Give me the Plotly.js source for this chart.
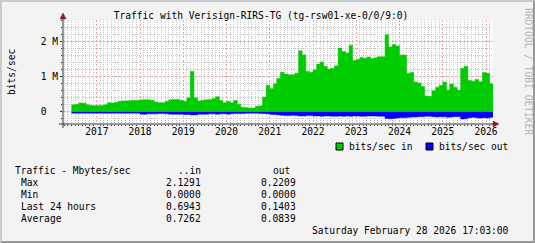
<!DOCTYPE html>
<html>
<head>
<meta charset="utf-8">
<script src="https://cdn.plot.ly/plotly-3.0.1.min.js"></script>
<style>
html,body{margin:0;padding:0;background:#F3F3F3;}
#wrap{position:relative;width:535px;height:243px;overflow:hidden;}
#chart{position:absolute;left:0;top:0;width:535px;height:243px;}
#frame{position:absolute;left:0;top:0;width:535px;height:243px;box-sizing:border-box;
  border-top:2px solid #CBCBCB;border-left:2px solid #CBCBCB;
  border-right:2px solid #999999;border-bottom:2px solid #999999;pointer-events:none;}
</style>
</head>
<body>
<div id="wrap"><div id="chart"></div><div id="frame"></div></div>
<script>
// ---- data (monthly averages, in M) ----
const startMonth = '2016-06';
const endTime = '2026-02-28 17:03';
const inValues = [
  0.20,0.21,0.25,0.24,0.20,0.18,0.17,
  0.18,0.18,0.20,0.26,0.25,0.27,0.30,0.31,0.31,0.32,0.32,0.33,
  0.34,0.34,0.34,0.33,0.28,0.26,0.26,0.30,0.34,0.35,0.35,0.33,
  0.30,0.40,1.15,0.40,0.31,0.33,0.34,0.35,0.38,0.43,0.32,0.26,
  0.30,0.26,0.32,0.21,0.13,0.12,0.11,0.11,0.16,0.17,
  0.42,0.75,0.66,0.80,0.95,1.13,1.08,1.06,1.06,1.10,1.74,1.62,
  1.15,1.13,1.20,1.36,1.42,1.30,1.22,1.24,1.31,1.82,1.72,1.68,
  1.90,1.46,1.50,1.55,1.53,1.56,1.52,1.54,1.57,1.57,2.20,1.85,
  1.92,1.88,1.62,1.62,1.10,1.12,0.85,0.82,0.72,0.45,0.44,0.60,
  0.70,0.75,0.85,0.62,0.79,0.70,0.62,1.24,1.30,0.89,0.87,0.92,
  0.86,1.12,1.10,0.80
];
const outValues = [
  0.04,0.04,0.04,0.04,0.04,0.04,0.04,
  0.04,0.04,0.04,0.04,0.04,0.04,0.04,0.04,0.04,0.04,0.04,0.04,
  0.07,0.07,0.06,0.06,0.06,0.05,0.05,0.06,0.07,0.07,0.07,0.07,
  0.08,0.08,0.09,0.09,0.07,0.07,0.07,0.06,0.06,0.07,0.06,0.06,
  0.07,0.06,0.05,0.05,0.05,0.04,0.04,0.04,0.04,0.05,0.05,0.06,
  0.08,0.08,0.09,0.10,0.11,0.11,0.10,0.11,0.12,0.12,0.11,0.11,
  0.12,0.12,0.13,0.12,0.12,0.13,0.13,0.12,0.13,0.12,0.13,0.12,
  0.12,0.13,0.13,0.12,0.12,0.12,0.13,0.13,0.19,0.20,0.19,0.18,
  0.17,0.17,0.16,0.15,0.15,0.14,0.14,0.13,0.13,0.14,0.15,0.14,
  0.14,0.16,0.15,0.14,0.14,0.21,0.20,0.17,0.16,0.17,0.18,0.17,
  0.18,0.16
];
const yTickVals = [0, 1, 2];
const yTickText = ['0\u00a0\u00a0', '1 M', '2 M'];
const chartTitle = 'Traffic with Verisign-RIRS-TG (tg-rsw01-xe-0/0/9:0)';
const yTitle = 'bits/sec';
const seriesNames = ['bits/sec in', 'bits/sec out'];
const statHeader = ['Traffic - Mbytes/sec', '..in', 'out'];
const statLabels = ['Max', 'Min', 'Last 24 hours', 'Average'];
const statIn = ['2.1291', '0.0000', '0.6943', '0.7262'];
const statOut = ['0.2209', '0.0000', '0.1403', '0.0839'];
const footerDate = 'Saturday February 28 2026 17:03:00';
const watermark = 'RRDTOOL / TOBI OETIKER';

// ---- build month dates ----
function monthList(start, n) {
  const [y0, m0] = start.split('-').map(Number);
  const out = [];
  for (let i = 0; i < n; i++) {
    const t = (m0 - 1) + i;
    const y = y0 + Math.floor(t / 12), m = (t % 12) + 1;
    out.push(y + '-' + String(m).padStart(2, '0') + '-01');
  }
  return out;
}
const months = monthList(startMonth, inValues.length);
const xs = months.concat([endTime]);
const yin = inValues.concat([inValues[inValues.length - 1]]);
const yout = outValues.map(v => -v).concat([-outValues[outValues.length - 1]]);

// ---- geometry helpers (pixel -> paper) ----
const L = 63, R = 493, T = 20, B = 124;
const W = R - L, H = B - T;
const px = x => (x - L) / W;
const py = y => (B - y) / H;

const FONT = 'DejaVu Sans Mono, Liberation Mono, monospace';
const FS = 9.6;

const traces = [
  {x: xs, y: yin, type: 'scatter', mode: 'lines', line: {shape: 'hv', width: 0.5, color: '#00CC00'},
   fill: 'tozeroy', fillcolor: '#00CC00', name: seriesNames[0], showlegend: false, hoverinfo: 'skip'},
  {x: xs, y: yout, type: 'scatter', mode: 'lines', line: {shape: 'hv', width: 0.5, color: '#0000FF'},
   fill: 'tozeroy', fillcolor: '#0000FF', name: seriesNames[1], showlegend: false, hoverinfo: 'skip'}
];

const ann = [];
function txt(text, x, y, xanchor, opts) {
  ann.push(Object.assign({text: text, x: px(x), y: py(y), xref: 'paper', yref: 'paper',
    xanchor: xanchor, yanchor: 'middle', showarrow: false, borderpad: 0,
    font: {family: FONT, size: FS, color: '#000'}}, opts || {}));
}
txt(yTitle, 11, 72, 'center', {textangle: -90});
txt(watermark, 529, 71, 'center', {textangle: 90, font: {family: FONT, size: FS, color: '#B4B4B4'}});
txt(seriesNames[0], 348, 146.7, 'left');
txt(seriesNames[1], 438, 146.7, 'left');
txt(statHeader[0], 14, 170.7, 'left');
txt(statHeader[1], 202, 170.7, 'right');
txt(statHeader[2], 272, 170.7, 'left');
const rowY = [182.3, 194.3, 206.5, 218.7];
for (let i = 0; i < statLabels.length; i++) {
  txt(statLabels[i], 20, rowY[i], 'left');
  txt(statIn[i], 202, rowY[i], 'right');
  txt(statOut[i], 297, rowY[i], 'right');
}
txt(footerDate, 510, 230.3, 'right');

const axisCol = '#333333', arrowCol = '#8B1A1A';
const shapes = [
  {type: 'line', xref: 'paper', yref: 'paper', x0: px(59), x1: px(494), y0: 0, y1: 0, line: {color: axisCol, width: 1}},
  {type: 'line', xref: 'paper', yref: 'paper', x0: 0, x1: 0, y0: py(128), y1: py(18), line: {color: axisCol, width: 1}},
  {type: 'path', xref: 'paper', yref: 'paper', path: `M ${px(493)},${py(121)} L ${px(499)},${py(124)} L ${px(493)},${py(127)} Z`,
   fillcolor: arrowCol, line: {color: arrowCol, width: 0.5}},
  {type: 'path', xref: 'paper', yref: 'paper', path: `M ${px(60)},${py(19)} L ${px(63)},${py(13)} L ${px(66)},${py(19)} Z`,
   fillcolor: arrowCol, line: {color: arrowCol, width: 0.5}},
  {type: 'rect', xref: 'paper', yref: 'paper', x0: px(336), x1: px(343), y0: py(150), y1: py(143),
   fillcolor: '#00CC00', line: {color: '#000', width: 1}},
  {type: 'rect', xref: 'paper', yref: 'paper', x0: px(426), x1: px(433), y0: py(150), y1: py(143),
   fillcolor: '#0000FF', line: {color: '#000', width: 1}}
];

const layout = {
  width: 535, height: 243,
  margin: {l: L, r: 535 - R, t: T, b: 243 - B, pad: 0},
  paper_bgcolor: '#F3F3F3', plot_bgcolor: '#FFFFFF',
  showlegend: false,
  title: {text: chartTitle, x: 261 / 535, xref: 'container', xanchor: 'center',
          y: 1 - 15.5 / 243, yref: 'container', yanchor: 'middle',
          font: {family: FONT, size: FS, color: '#000'}},
  font: {family: FONT, size: FS, color: '#000'},
  xaxis: {type: 'date', range: ['2016-03-21', '2026-03-01'], fixedrange: true,
    tick0: '2017-01-01', dtick: 'M12', tickformat: '%Y', ticklabelmode: 'instant',
    showgrid: true, gridcolor: '#F4A0A0', griddash: '2px,2px', gridwidth: 1,
    ticks: '', showline: false, zeroline: false,
    tickfont: {family: FONT, size: FS, color: '#000'},
    minor: {tick0: '2016-01-01', dtick: 'M1', showgrid: true, gridcolor: '#C8C8C8', griddash: '1px,1px', gridwidth: 1,
            ticks: 'outside', ticklen: 1, tickcolor: axisCol}},
  yaxis: {range: [-0.35, 2.62], fixedrange: true, tickmode: 'array', tickvals: yTickVals, ticktext: yTickText,
    showgrid: true, gridcolor: '#F4A0A0', griddash: '2px,2px', gridwidth: 1,
    ticks: 'outside', ticklen: 2, tickcolor: axisCol, showline: false, zeroline: false,
    tickfont: {family: FONT, size: FS, color: '#000'},
    minor: {tickmode: 'linear', tick0: 0, dtick: 0.2, showgrid: true, gridcolor: '#C8C8C8', griddash: '1px,1px', gridwidth: 1,
            ticks: 'outside', ticklen: 1, tickcolor: axisCol}},
  shapes: shapes,
  annotations: ann
};

Plotly.newPlot('chart', traces, layout, {staticPlot: true, displayModeBar: false});
</script>
</body>
</html>
